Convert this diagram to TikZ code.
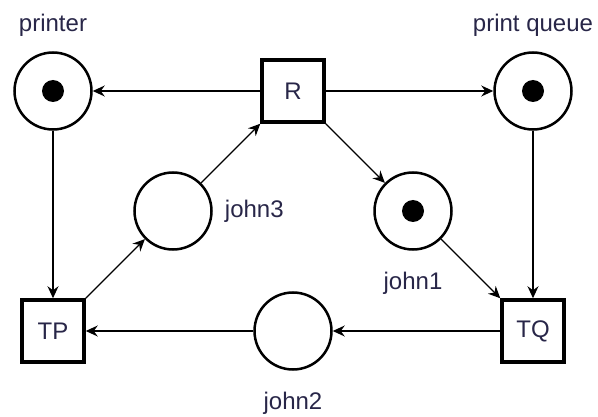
\documentclass[tikz,border=0pt]{standalone}
\usepackage{fontspec}
\setmainfont{Liberation Sans}
\usetikzlibrary{petri, positioning, arrows.meta}
\definecolor{inkblue}{RGB}{40,38,72}

\begin{document}
\begin{tikzpicture}[node distance=120pt, on grid,
    >={Stealth[length=12pt, width=11pt, inset=4pt]},
    every place/.style={line width=2.5pt, minimum size=77pt},
    every transition/.style={line width=3.5pt, minimum size=62pt, text=inkblue,
      font=\fontsize{24}{28}\selectfont},
    every token/.style={minimum size=22pt},
    every label/.style={text=inkblue, inner sep=2pt, font=\fontsize{24}{28}\selectfont},
    arc/.style={->, line width=1.3pt}]
   \useasboundingbox (0,0) rectangle (598pt,-417pt);

   \node[place, tokens=1, label={[label distance=13pt]above:printer}] (printer) at (53pt,-91pt) {};
   \node[transition] (R) [right=240pt of printer] {R};
   \node[place, tokens=1, label={[label distance=13pt]above:print queue}] (pq) [right=240pt of R] {};
   \node[place, label={[label distance=10pt]right:john3}] (john3) [below right=120pt and 120pt of printer] {};
   \node[place, tokens=1, label={[label distance=19pt]below:john1}] (john1) [below right=120pt and 120pt of R] {};
   \node[transition] (TP) [below=240pt of printer] {TP};
   \node[place, label={[label distance=19pt]below:john2}] (john2) [below=240pt of R] {};
   \node[transition] (TQ) [below=240pt of pq] {TQ};

   \path[arc]
    (R) edge (printer)
        edge (pq)
        edge (john1)
    (printer) edge (TP)
    (TP) edge (john3)
    (john3) edge (R)
    (john1) edge (TQ)
    (pq) edge (TQ)
    (TQ) edge (john2)
    (john2) edge (TP);
\end{tikzpicture}
\end{document}
